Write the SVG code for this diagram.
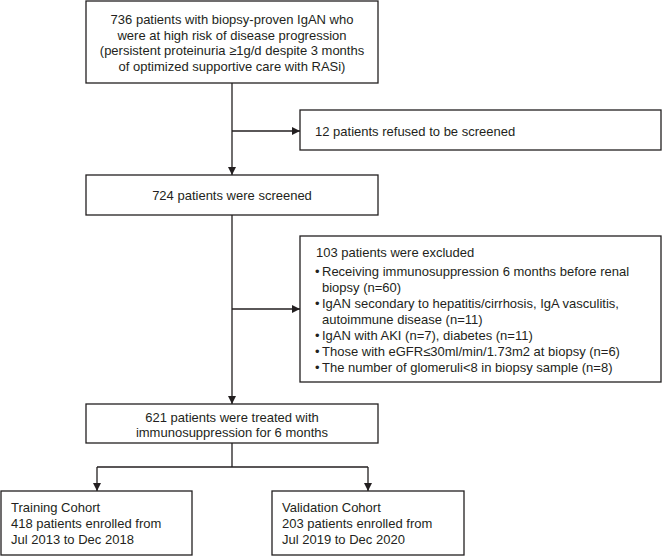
<svg xmlns="http://www.w3.org/2000/svg" width="663" height="556" viewBox="0 0 663 556">
<defs>
<style>
.box{fill:#fff;stroke:#231f20;stroke-width:1.3}
.t{font-family:"Liberation Sans",Arial,sans-serif;font-size:13px;fill:#231f20}
.c{text-anchor:middle}
.ln{fill:none;stroke:#231f20;stroke-width:1.3}
</style>
<marker id="ah" markerUnits="userSpaceOnUse" markerWidth="9" markerHeight="9" refX="8" refY="4" orient="auto">
<path d="M0,0 L8,4 L0,8 z" fill="#231f20"/>
</marker>
</defs>
<rect width="663" height="556" fill="#fff"/>
<g id="connectors">
<path class="ln" d="M232,83 V175" marker-end="url(#ah)"/>
<path class="ln" d="M232,131 H300" marker-end="url(#ah)"/>
<path class="ln" d="M232,215 V404" marker-end="url(#ah)"/>
<path class="ln" d="M232,309 H300" marker-end="url(#ah)"/>
<path class="ln" d="M232,443 V467 M97,467 H368"/>
<path class="ln" d="M97,467 V491" marker-end="url(#ah)"/>
<path class="ln" d="M368,467 V491" marker-end="url(#ah)"/>
</g>
<g id="start">
<rect class="box" x="86" y="1" width="292" height="82"/>
<text class="t c" x="232" y="24">736 patients with biopsy-proven IgAN who</text>
<text class="t c" x="232" y="39.5">were at high risk of disease progression</text>
<text class="t c" x="232" y="55">(persistent proteinuria ≥1g/d despite 3 months</text>
<text class="t c" x="232" y="70.5">of optimized supportive care with RASi)</text>
</g>
<g id="refused">
<rect class="box" x="300" y="110" width="361" height="40"/>
<text class="t" x="315" y="135.5">12 patients refused to be screened</text>
</g>
<g id="screened">
<rect class="box" x="86" y="175" width="292" height="40"/>
<text class="t c" x="232" y="200">724 patients were screened</text>
</g>
<g id="excluded">
<rect class="box" x="300" y="236" width="361" height="146"/>
<text class="t" x="316" y="256.5">103 patients were excluded</text>
<text class="t" x="315" y="275.5">•</text>
<text class="t" x="322" y="275.5">Receiving immunosuppression 6 months before renal</text>
<text class="t" x="322" y="291.5">biopsy (n=60)</text>
<text class="t" x="315" y="307.5">•</text>
<text class="t" x="322" y="307.5">IgAN secondary to hepatitis/cirrhosis, IgA vasculitis,</text>
<text class="t" x="322" y="323.5">autoimmune disease (n=11)</text>
<text class="t" x="315" y="339.5">•</text>
<text class="t" x="322" y="339.5">IgAN with AKI (n=7), diabetes (n=11)</text>
<text class="t" x="315" y="355.5">•</text>
<text class="t" x="322" y="355.5">Those with eGFR≤30ml/min/1.73m2 at biopsy (n=6)</text>
<text class="t" x="315" y="371.5">•</text>
<text class="t" x="322" y="371.5">The number of glomeruli&lt;8 in biopsy sample (n=8)</text>
</g>
<g id="treated">
<rect class="box" x="86" y="404" width="292" height="39"/>
<text class="t c" x="232" y="421.5">621 patients were treated with</text>
<text class="t c" x="232" y="436.5">immunosuppression for 6 months</text>
</g>
<g id="training">
<rect class="box" x="1" y="491" width="191" height="64"/>
<text class="t" x="11" y="511.5">Training Cohort</text>
<text class="t" x="11" y="527.5">418 patients enrolled from</text>
<text class="t" x="11" y="543.5">Jul 2013 to Dec 2018</text>
</g>
<g id="validation">
<rect class="box" x="272" y="491" width="192" height="64"/>
<text class="t" x="282" y="511.5">Validation Cohort</text>
<text class="t" x="282" y="527.5">203 patients enrolled from</text>
<text class="t" x="282" y="543.5">Jul 2019 to Dec 2020</text>
</g>
</svg>
